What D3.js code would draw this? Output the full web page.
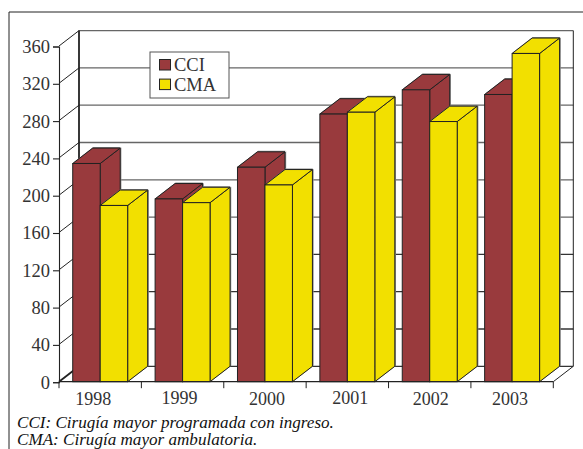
<!DOCTYPE html>
<html><head><meta charset="utf-8">
<script src="https://d3js.org/d3.v7.min.js"></script>
<style>html,body{margin:0;background:#fff}svg{display:block}text{font-family:"Liberation Serif",serif}</style>
</head><body><svg id="c" width="583" height="449"></svg>
<script>
const years=["1998","1999","2000","2001","2002","2003"];
const seriesNames=["CCI","CMA"];
const cci=[234,196,230,287,313,308];
const cma=[189,192,211,289,279,352];
const tickValues=[0,40,80,120,160,200,240,280,320,360];
const notes=["CCI: Cirugía mayor programada con ingreso.","CMA: Cirugía mayor ambulatoria."];
const colors=["#993a3d","#f2e000"];

const svg=d3.select("#c");
const x0=59,x1=553.3,yB=381.7,yT=46,dx=20,dy=-15.4;
const x=d3.scaleBand().domain(years).range([x0,x1]).paddingInner(0.333).paddingOuter(0.1665);
const xs=d3.scaleBand().domain(seriesNames).range([0,x.bandwidth()]);
const xAxisScale=d3.scaleBand().domain(years).range([x0,x1]);
const y=d3.scaleLinear().domain([0,360]).range([yB,yT]);
const ink="#222",gridC="#666";
const labelShiftX=[-7,-3,2,3,1,-2], labelShiftY=[1,0,1,0,1,1];

// outer frame
svg.append("path").attr("d",`M9,449V12H583`).attr("fill","none").attr("stroke",ink).attr("stroke-width",1);

// walls + gridlines
const g=svg.append("g");
g.selectAll("line.grid").data(tickValues).join("line")
 .attr("x1",x0+dx).attr("x2",x1+dx).attr("y1",d=>y(d)+dy).attr("y2",d=>y(d)+dy)
 .attr("stroke",d=>d>=160?gridC:"#333").attr("stroke-width",1.3);
g.selectAll("line.side").data(tickValues).join("line")
 .attr("x1",x0).attr("x2",x0+dx).attr("y1",d=>y(d)).attr("y2",d=>y(d)+dy)
 .attr("stroke",ink).attr("stroke-width",d=>d===0?1.8:1);
g.append("line").attr("x1",x0+dx).attr("x2",x0+dx).attr("y1",y(360)+dy).attr("y2",yB+dy).attr("stroke",ink).attr("stroke-width",1.8);
g.append("path").attr("fill","none").attr("stroke",ink).attr("stroke-width",1)
 .attr("d",`M${x1+dx},${y(360)+dy}V${yB+dy}L${x1},${yB}`);

// bars
function drawBar(sel,bx,w,v,color){
  const t=y(v);
  const side=`M${bx+w},${t}l${dx},${dy}V${yB+dy}L${bx+w},${yB}Z`;
  const top=`M${bx},${t}l${dx},${dy}h${w}l${-dx},${-dy}Z`;
  sel.append("path").attr("d",side).attr("fill","#8a8a8a").attr("transform","translate(1.2,-0.6)");
  sel.append("path").attr("d",top).attr("fill","#8a8a8a").attr("transform","translate(0.6,-1)");
  for(const d of [side,top]) sel.append("path").attr("d",d).attr("fill",color).attr("stroke",ink).attr("stroke-width",1).attr("stroke-linejoin","round");
  sel.append("rect").attr("x",bx).attr("y",t).attr("width",w).attr("height",yB-t).attr("fill",color).attr("stroke",ink).attr("stroke-width",1);
}
const bars=svg.append("g");
years.forEach((yr,i)=>{
  drawBar(bars,x(yr)+xs("CCI"),xs.bandwidth(),cci[i],colors[0]);
  drawBar(bars,x(yr)+xs("CMA"),xs.bandwidth(),cma[i],colors[1]);
});

// axes
const ya=svg.append("g").attr("transform",`translate(${x0},0.5)`)
 .call(d3.axisLeft(y).tickValues(tickValues).tickSize(6).tickPadding(3).tickFormat(d3.format("d")));
ya.selectAll("path,line").attr("stroke",ink).attr("stroke-width",1.1);
ya.selectAll("text").attr("font-size",18.5).attr("fill","#333").attr("font-family","Liberation Serif");
const xa=svg.append("g").attr("transform",`translate(0,${yB})`)
 .call(d3.axisBottom(xAxisScale).tickSize(0).tickPadding(10));
xa.select("path").remove();
xa.selectAll("text").attr("font-size",18).attr("fill","#333").attr("font-family","Liberation Serif")
 .attr("transform",(d,i)=>`translate(${labelShiftX[i]},${labelShiftY[i]})`);
svg.append("g").selectAll("line").data(d3.range(years.length+1)).join("line")
 .attr("x1",i=>x0+i*xAxisScale.step()).attr("x2",i=>x0+i*xAxisScale.step())
 .attr("y1",yB).attr("y2",yB+6.5).attr("stroke",ink).attr("stroke-width",1);
svg.append("line").attr("x1",x0).attr("x2",x1).attr("y1",yB).attr("y2",yB).attr("stroke",ink).attr("stroke-width",1.2);

// legend
const lg=svg.append("g");
lg.append("rect").attr("x",150).attr("y",52).attr("width",79).attr("height",46).attr("fill","#fff").attr("stroke","#555").attr("stroke-width",1);
seriesNames.forEach((n,i)=>{
  const ly=59.5+i*19.6;
  lg.append("rect").attr("x",159.5).attr("y",ly).attr("width",11).attr("height",10.5).attr("fill",colors[i]).attr("stroke",ink).attr("stroke-width",1);
  lg.append("text").attr("x",174).attr("y",ly+11.5).attr("font-size",18.5).attr("fill","#333").text(n);
});

// notes
svg.selectAll("text.note").data(notes).join("text").attr("class","note")
 .attr("x",17).attr("y",(d,i)=>427.5+i*17.5).attr("font-size",17.1).attr("font-style","italic").attr("fill","#111").text(d=>d);
</script></body></html>
